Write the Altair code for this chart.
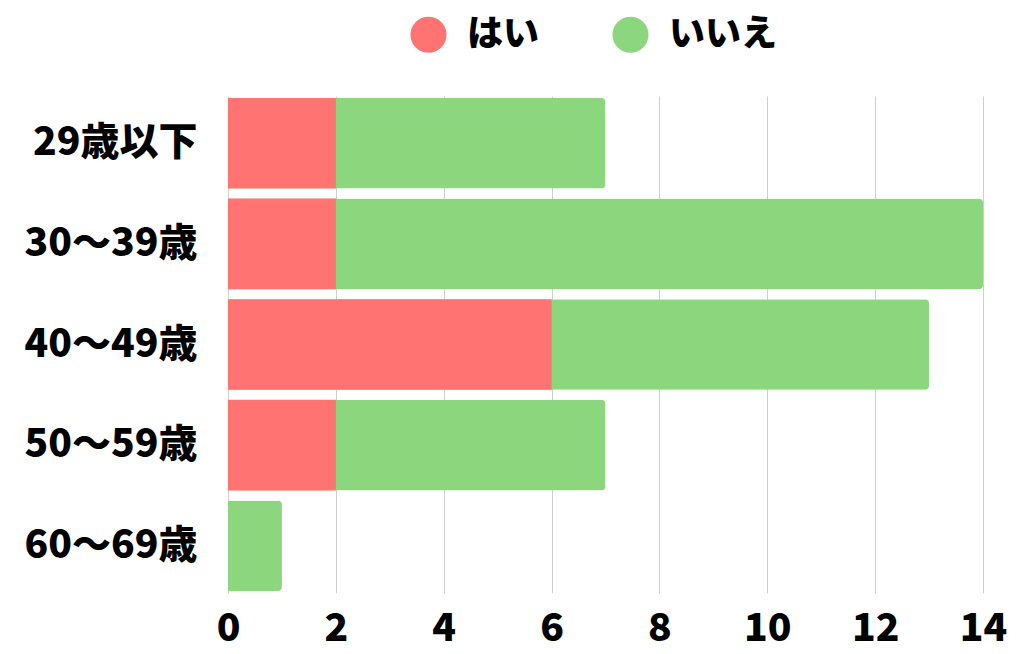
import altair as alt
import pandas as pd

categories = ["29歳以下", "30〜39歳", "40〜49歳", "50〜59歳", "60〜69歳"]
yes_values = [2, 2, 6, 2, 0]
no_values = [5, 12, 7, 5, 1]
series = ["はい", "いいえ"]
colors = ["#FF7373", "#8CD67D"]
x_ticks = [0, 2, 4, 6, 8, 10, 12, 14]

FONT = "Noto Sans CJK JP"

rows = []
for c, y, n in zip(categories, yes_values, no_values):
    rows.append({"cat": c, "series": "はい", "start": 0, "end": y})
    rows.append({"cat": c, "series": "いいえ", "start": y, "end": y + n})
df = pd.DataFrame(rows)

yscale = alt.Scale(domain=categories, paddingInner=0.1, paddingOuter=0.02)
xscale = alt.Scale(domain=[0, 14], nice=False)
color = alt.Color(
    "series:N",
    scale=alt.Scale(domain=series, range=colors),
    legend=alt.Legend(
        title=None, orient="none", direction="horizontal",
        legendX=182, legendY=-80,
        symbolType="circle", symbolSize=1300, symbolStrokeWidth=0,
        labelFont=FONT, labelFontSize=36, labelFontWeight=900,
        labelColor="#000000", labelOffset=20, columnPadding=72,
        labelBaseline="middle",
        symbolOpacity=1, labelLimit=300,
    ),
)

base = alt.Chart(df).encode(
    y=alt.Y("cat:N", scale=yscale, sort=categories,
            axis=alt.Axis(title=None, domain=False, ticks=False, labelFont=FONT,
                          labelFontSize=39, labelFontWeight=900, labelColor="#000000",
                          labelPadding=31, grid=False, labelLimit=300)),
)

green = base.transform_filter(alt.datum.series == "いいえ").mark_bar(
    cornerRadiusTopRight=4, cornerRadiusBottomRight=4
).encode(
    x=alt.X("end:Q", scale=xscale,
            axis=alt.Axis(title=None, values=x_ticks, domain=False, ticks=False,
                          labelFont=FONT, labelFontSize=39, labelFontWeight=900,
                          labelColor="#000000", labelPadding=16, labelFlush=False,
                          grid=True, gridColor="#CFCFCF", gridWidth=1)),
    x2=alt.value(0),
    color=color,
)

red = base.transform_filter(alt.datum.series == "はい").mark_bar().encode(
    x=alt.X("start:Q", scale=xscale),
    x2="end:Q",
    color=color,
)

chart = alt.layer(green, red).properties(
    width=755, height=497,
    autosize=alt.AutoSizeParams(type="none"),
    padding={"left": 220, "top": 88, "right": 30, "bottom": 60},
).configure(background="#FFFFFF").configure_view(stroke=None, strokeWidth=0)

chart.save("out.html", embed_options={"renderer": "svg", "actions": False})
